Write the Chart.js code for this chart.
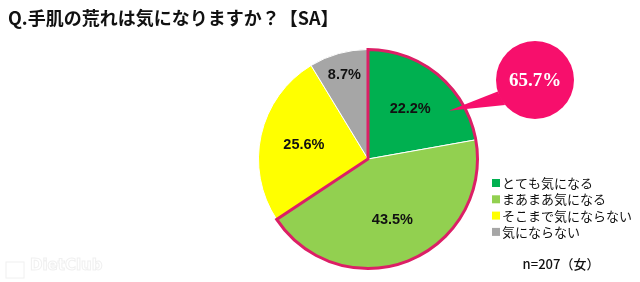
<!DOCTYPE html>
<html>
<head>
<meta charset="utf-8">
<script src="https://cdn.jsdelivr.net/npm/chart.js@4"></script>
<style>
  html, body { margin: 0; padding: 0; background: #fff; }
  #wrap { position: relative; width: 640px; height: 282px; }
</style>
</head>
<body>
<div id="wrap"><canvas id="pie" width="640" height="282"></canvas></div>
<script>
const titleText = 'Q.手肌の荒れは気になりますか？【SA】';
const categories = ['とても気になる', 'まあまあ気になる', 'そこまで気にならない', '気にならない'];
const shares = [22.2, 43.5, 25.6, 8.7];
const sliceColors = ['#00b050', '#92d050', '#ffff00', '#a6a6a6'];
const highlighted = [0, 1];
const sampleNote = 'n=207（女）';

const jp = '"Noto Sans CJK JP", "Noto Sans", sans-serif';

// pink outline around the highlighted slices + callout bubble + labels + legend
const extras = {
    id: 'extras',
    afterDatasetsDraw(chart) {
        const ctx = chart.ctx;
        const meta = chart.getDatasetMeta(0);
        const first = meta.data[highlighted[0]];
        const last = meta.data[highlighted[highlighted.length - 1]];
        const cx = first.x, cy = first.y, r = first.outerRadius;

        // slice labels
        const labelR = [0.6, 0.6, 0.6, 0.8];
        ctx.save();
        ctx.font = 'bold 14.5px "Liberation Sans", sans-serif';
        ctx.fillStyle = '#111';
        ctx.textAlign = 'center';
        ctx.textBaseline = 'middle';
        meta.data.forEach((arc, i) => {
            const mid = (arc.startAngle + arc.endAngle) / 2;
            const rr = r * labelR[i];
            ctx.fillText(shares[i].toFixed(1) + '%', cx + rr * Math.cos(mid), cy + rr * Math.sin(mid));
        });
        ctx.restore();

        // outline
        ctx.save();
        ctx.strokeStyle = '#dc1f66';
        ctx.lineWidth = 3;
        ctx.beginPath();
        ctx.moveTo(cx, cy);
        ctx.lineTo(cx + r * Math.cos(first.startAngle), cy + r * Math.sin(first.startAngle));
        ctx.arc(cx, cy, r, first.startAngle, last.endAngle);
        ctx.closePath();
        ctx.stroke();
        ctx.restore();

        // callout bubble
        const total = highlighted.reduce((s, i) => s + shares[i], 0);
        const bx = 535, by = 80, br = 39;
        const tipA = first.startAngle + (first.endAngle - first.startAngle) * 0.74;
        const tx = cx + r * 0.86 * Math.cos(tipA), ty = cy + r * 0.86 * Math.sin(tipA);
        const a1 = 163 * Math.PI / 180, a2 = 140 * Math.PI / 180;
        ctx.save();
        ctx.fillStyle = '#f70f6c';
        ctx.beginPath();
        ctx.moveTo(tx, ty);
        ctx.lineTo(bx + br * Math.cos(a1), by + br * Math.sin(a1));
        ctx.lineTo(bx + br * Math.cos(a2), by + br * Math.sin(a2));
        ctx.closePath();
        ctx.fill();
        ctx.beginPath();
        ctx.arc(bx, by, br, 0, Math.PI * 2);
        ctx.fill();
        ctx.fillStyle = '#fff';
        ctx.font = 'bold 19px "Liberation Serif", serif';
        ctx.textAlign = 'center';
        ctx.textBaseline = 'middle';
        ctx.fillText(total.toFixed(1) + '%', bx, by + 1);
        ctx.restore();

        // legend
        ctx.save();
        ctx.font = '13px ' + jp;
        ctx.textBaseline = 'middle';
        categories.forEach((c, i) => {
            const y = 183 + i * 16.3;
            ctx.fillStyle = sliceColors[i];
            ctx.fillRect(492, y - 4, 8, 8);
            ctx.fillStyle = '#111';
            ctx.fillText(c, 502, y);
        });
        ctx.font = '500 13px ' + jp;
        ctx.textAlign = 'center';
        ctx.fillText(sampleNote, 561, 264);
        ctx.restore();

        // title
        ctx.save();
        ctx.font = 'bold 18px ' + jp;
        ctx.fillStyle = '#111';
        ctx.textBaseline = 'middle';
        ctx.fillText(titleText, 8, 18);
        ctx.restore();

        // faint watermark
        ctx.save();
        ctx.font = 'bold 15px "DejaVu Sans", sans-serif';
        ctx.strokeStyle = '#f0f0f0';
        ctx.lineWidth = 1;
        ctx.strokeText('DietClub', 30, 270);
        ctx.strokeRect(6, 262, 18, 16);
        ctx.restore();
    }
};

new Chart(document.getElementById('pie'), {
    type: 'pie',
    data: {
        labels: categories,
        datasets: [{
            data: shares,
            backgroundColor: sliceColors,
            borderColor: '#ffffff',
            borderWidth: 1
        }]
    },
    options: {
        responsive: false,
        animation: false,
        layout: { padding: { left: 258, right: 162, top: 49, bottom: 13 } },
        plugins: {
            legend: { display: false },
            tooltip: { enabled: false }
        }
    },
    plugins: [extras]
});
</script>
</body>
</html>
